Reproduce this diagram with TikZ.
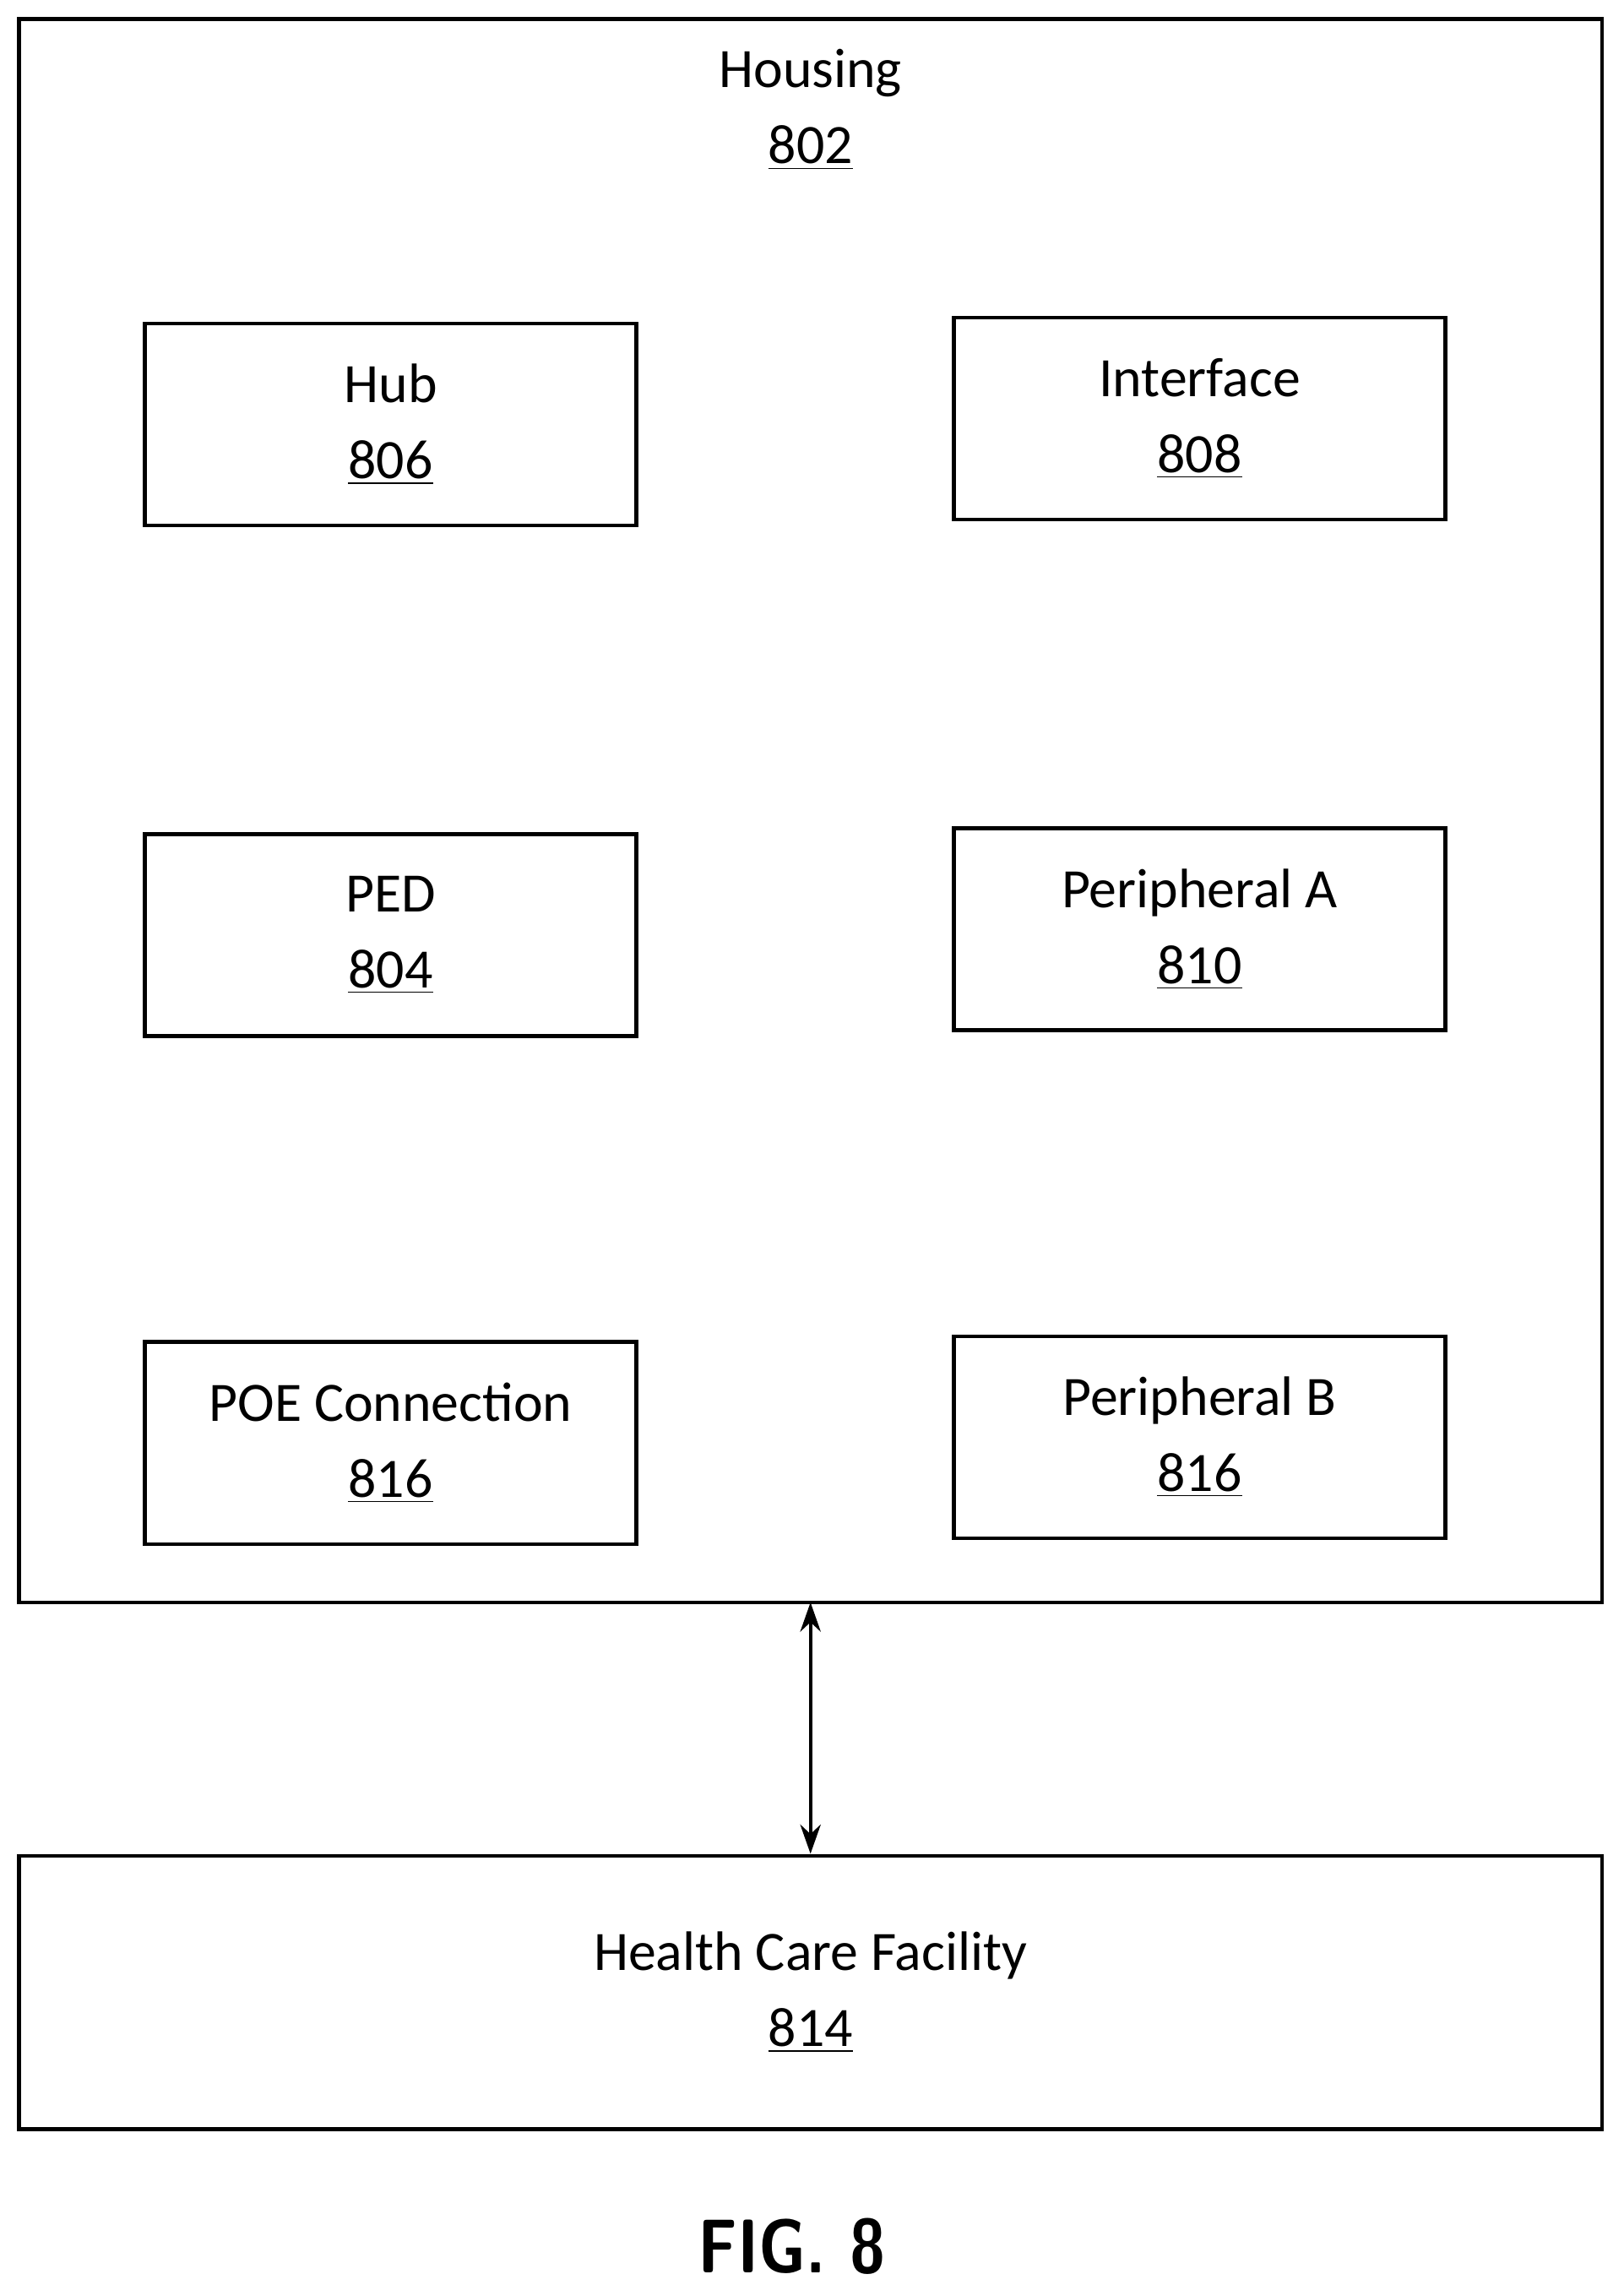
\documentclass[tikz,border=0pt]{standalone}
\usepackage{fontspec}
\setmainfont{Carlito}
\usetikzlibrary{positioning,arrows.meta}
\tikzset{every picture/.style={line width=1.2pt}}
\tikzset{
blk/.style={draw, minimum width=168pt, minimum height=69pt, align=center, font=\fontsize{19}{26}\selectfont, inner sep=0pt},
}
\begin{document}
\begin{tikzpicture}[x=0.5pt,y=0.5pt,yscale=-1,xscale=1]
\useasboundingbox (0,0) rectangle (1110,1569);

%Housing
\draw (13,13) rectangle (1095,1095);
\node (housing) [align=center, font=\fontsize{19}{26}\selectfont] at (554,75) {Housing\\\underline{802}};
\coordinate (hbot) at (554,1095);

%inner blocks
\node (hub) [blk] at (267,290) {Hub\\\underline{806}};
\node (iface) [blk] at (820,286) {Interface\\\underline{808}};
\node (ped) [blk] at (267,639) {PED\\\underline{804}};
\node (pera) [blk] at (820,635) {Peripheral A\\\underline{810}};
\node (poe) [blk] at (267,986) {POE Connection\\\underline{816}};
\node (perb) [blk] at (820,982) {Peripheral B\\\underline{816}};

%Health Care Facility
\node (hcf) [blk, minimum width=541pt, minimum height=93.5pt] at (554,1361.5) {Health Care Facility\\\underline{814}};

\draw [{Stealth[length=10pt,width=7pt]}-{Stealth[length=10pt,width=7pt]}] (hbot) -- (hcf.north);

\node (fig) [font=\sffamily\bfseries\fontsize{26}{30}\selectfont, xscale=0.85] at (541,1535) {FIG. 8};
\end{tikzpicture}
\end{document}
